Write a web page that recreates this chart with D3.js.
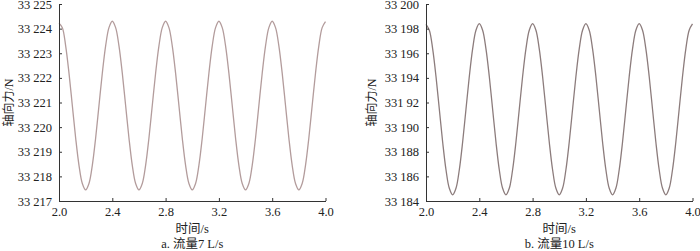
<!DOCTYPE html>
<html>
<head>
<meta charset="utf-8">
<script src="https://cdn.jsdelivr.net/npm/d3@7"></script>
<style>
  body { margin: 0; background: #fff; }
  svg text { font-family: "Liberation Serif", "Times New Roman", serif; fill: #222; }
  .cjk { font-family: "Liberation Serif", "Noto Sans CJK SC", serif; }
</style>
</head>
<body>
<svg id="chart" width="700" height="251"></svg>
<script>
// sampled every 0.025 s from 2.0 s to 4.0 s
const timeStart = 2.0, timeStep = 0.025;

const forceA = [
  33224.22, 33224.04, 33223.30, 33222.19, 33220.88, 33219.56, 33218.45, 33217.71,
  33217.45, 33217.71, 33218.45, 33219.56, 33220.88, 33222.19, 33223.30, 33224.04,
  33224.30, 33224.04, 33223.30, 33222.19, 33220.88, 33219.56, 33218.45, 33217.71,
  33217.45, 33217.71, 33218.45, 33219.56, 33220.88, 33222.19, 33223.30, 33224.04,
  33224.30, 33224.04, 33223.30, 33222.19, 33220.88, 33219.56, 33218.45, 33217.71,
  33217.45, 33217.71, 33218.45, 33219.56, 33220.88, 33222.19, 33223.30, 33224.04,
  33224.30, 33224.04, 33223.30, 33222.19, 33220.88, 33219.56, 33218.45, 33217.71,
  33217.45, 33217.71, 33218.45, 33219.56, 33220.88, 33222.19, 33223.30, 33224.04,
  33224.30, 33224.04, 33223.30, 33222.19, 33220.88, 33219.56, 33218.45, 33217.71,
  33217.45, 33217.71, 33218.45, 33219.56, 33220.88, 33222.19, 33223.30, 33224.04,
  33224.28
];

const forceB = [
  33198.35, 33197.87, 33196.36, 33194.11, 33191.45, 33188.79, 33186.54, 33185.03,
  33184.50, 33185.03, 33186.54, 33188.79, 33191.45, 33194.11, 33196.36, 33197.87,
  33198.40, 33197.87, 33196.36, 33194.11, 33191.45, 33188.79, 33186.54, 33185.03,
  33184.50, 33185.03, 33186.54, 33188.79, 33191.45, 33194.11, 33196.36, 33197.87,
  33198.40, 33197.87, 33196.36, 33194.11, 33191.45, 33188.79, 33186.54, 33185.03,
  33184.50, 33185.03, 33186.54, 33188.79, 33191.45, 33194.11, 33196.36, 33197.87,
  33198.40, 33197.87, 33196.36, 33194.11, 33191.45, 33188.79, 33186.54, 33185.03,
  33184.50, 33185.03, 33186.54, 33188.79, 33191.45, 33194.11, 33196.36, 33197.87,
  33198.40, 33197.87, 33196.36, 33194.11, 33191.45, 33188.79, 33186.54, 33185.03,
  33184.50, 33185.03, 33186.54, 33188.79, 33191.45, 33194.11, 33196.36, 33197.87,
  33198.38
];

const xTicks = [2.0, 2.4, 2.8, 3.2, 3.6, 4.0];
const yTicksA = [33217, 33218, 33219, 33220, 33221, 33222, 33223, 33224, 33225];
const yLabelsA = ["33 217", "33 218", "33 219", "33 220", "33 221", "33 222", "33 223", "33 224", "33 225"];
const yTicksB = [33184, 33186, 33188, 33190, 33192, 33194, 33196, 33198, 33200];
const yLabelsB = ["33 184", "33 186", "33 188", "33 190", "331 92", "33 194", "33 196", "33 198", "33 200"];

const svg = d3.select("#chart");

function drawPanel(opt) {
  const g = svg.append("g").attr("transform", `translate(${opt.left},4)`);
  const w = 266.5, h = 197;

  const x = d3.scaleLinear().domain([2, 4]).range([0, w]);
  const y = d3.scaleLinear().domain(opt.yDomain).range([h, 0]);

  const line = d3.line()
    .x((d, i) => x(timeStart + i * timeStep))
    .y((d) => y(d))
    .curve(d3.curveCatmullRom);

  g.append("path")
    .datum(opt.values)
    .attr("fill", "none")
    .attr("stroke", opt.color)
    .attr("stroke-width", 1.3)
    .attr("d", line);

  // Eje X
  const xAxis = g.append("g")
    .attr("transform", `translate(0,${h})`)
    .call(d3.axisBottom(x).tickValues(xTicks).tickFormat(d3.format(".1f"))
      .tickSizeInner(-3).tickSizeOuter(0).tickPadding(6));
  xAxis.select(".domain").attr("stroke", "#333");
  xAxis.selectAll(".tick line").attr("stroke", "#333");
  xAxis.selectAll("text").attr("font-size", "12.5px").attr("font-family", "Liberation Serif").attr("fill", "#222");

  // Eje Y
  const yAxis = g.append("g")
    .call(d3.axisLeft(y).tickValues(opt.yTicks).tickFormat((d, i) => opt.yLabels[i])
      .tickSizeInner(-3).tickSizeOuter(0).tickPadding(7));
  yAxis.select(".domain").attr("stroke", "#333");
  yAxis.selectAll(".tick line").attr("stroke", "#333");
  yAxis.selectAll("text").attr("font-size", "12.5px").attr("font-family", "Liberation Serif").attr("fill", "#222");

  // Títulos
  g.append("text")
    .attr("class", "cjk")
    .attr("x", w / 2)
    .attr("y", 229)
    .attr("text-anchor", "middle")
    .attr("font-size", "12.5px")
    .text("时间/s");

  g.append("text")
    .attr("class", "cjk")
    .attr("x", w / 2)
    .attr("y", 244)
    .attr("text-anchor", "middle")
    .attr("font-size", "12.5px")
    .text(opt.caption);

  g.append("text")
    .attr("class", "cjk")
    .attr("transform", `translate(${opt.titleX},${h / 2}) rotate(-90)`)
    .attr("text-anchor", "middle")
    .attr("font-size", "12px")
    .text("轴向力/N");
}

drawPanel({
  left: 59, values: forceA, yDomain: [33217, 33225], yTicks: yTicksA, yLabels: yLabelsA,
  color: "#b39c9c", caption: "a. 流量7 L/s", titleX: -46
});

drawPanel({
  left: 426, values: forceB, yDomain: [33184, 33200], yTicks: yTicksB, yLabels: yLabelsB,
  color: "#8c7c7c", caption: "b. 流量10 L/s", titleX: -50
});
</script>
</body>
</html>
